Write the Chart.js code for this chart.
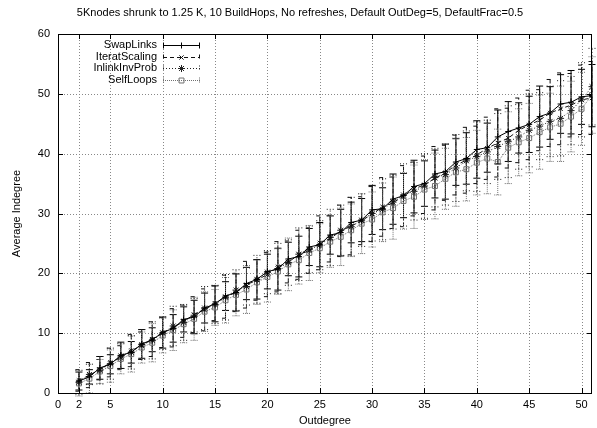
<!DOCTYPE html>
<html><head><meta charset="utf-8">
<script src="https://cdn.jsdelivr.net/npm/chart.js@4/dist/chart.umd.min.js"></script>
<style>html,body{margin:0;padding:0;background:#fff}#wrap{width:597px;height:428px}</style>
</head><body><div id="wrap"><canvas id="c" width="597" height="428"></canvas></div>
<script>
const titleText = "5Knodes shrunk to 1.25 K, 10 BuildHops, No refreshes, Default OutDeg=5, DefaultFrac=0.5";
const xTitle = "Outdegree";
const yTitle = "Average Indegree";
const xTicks = [0,2,5,10,15,20,25,30,35,40,45,50];
const yTicks = [0,10,20,30,40,50,60];
const outdeg = [2,3,4,5,6,7,8,9,10,11,12,13,14,15,16,17,18,19,20,21,22,23,24,25,26,27,28,29,30,31,32,33,34,35,36,37,38,39,40,41,42,43,44,45,46,47,48,49,50,51];
const swapLinks = [2.0,2.7,4.2,4.8,6.3,6.8,8.2,8.9,10.1,10.8,12.3,12.7,14.2,14.9,16.2,16.8,18.3,19.0,20.3,20.7,22.4,22.8,24.4,24.8,26.4,26.8,28.5,28.9,30.6,30.8,32.4,33.0,34.5,35.0,36.6,37.0,38.6,39.2,40.7,41.0,42.8,43.7,44.3,44.9,46.2,46.8,48.3,48.6,49.5,49.7];
const swapLinksErr = [1.5,1.2,1.9,1.6,2.2,1.8,2.4,2.0,2.6,2.3,2.1,2.8,2.5,3.0,2.4,3.1,2.7,3.3,2.9,3.5,2.8,3.4,3.1,3.7,3.2,3.9,3.4,3.6,4.1,3.5,4.2,3.7,4.4,3.8,4.0,4.6,3.9,4.3,4.8,4.1,4.5,5.0,4.2,4.7,5.1,4.4,4.9,5.3,4.6,5.2];
const iteratScaling = [2.1,3.0,3.9,5.1,5.9,7.1,7.9,9.0,10.1,10.9,12.0,13.1,13.9,15.0,16.1,16.8,18.1,18.9,19.8,21.1,21.9,23.1,23.8,25.1,25.8,27.1,27.9,28.8,29.9,31.1,31.8,32.9,34.1,34.8,35.9,36.8,38.1,38.9,39.8,40.9,41.8,42.6,43.9,44.8,45.6,46.8,47.5,48.1,49.0,49.3];
const iteratScalingErr = [1.8,2.1,1.7,2.4,2.0,2.7,2.3,2.9,2.5,3.2,2.7,3.0,3.5,2.9,3.6,3.2,3.9,3.4,3.7,4.2,3.5,4.1,3.8,4.5,3.9,4.3,4.8,4.0,4.6,4.9,4.3,5.1,4.5,4.8,5.3,4.6,5.0,5.5,4.8,5.2,5.7,5.0,5.4,5.8,5.1,5.6,6.0,5.3,5.8,6.1];
const inlinkInvProb = [1.8,3.1,3.8,4.9,6.2,6.8,8.1,8.8,10.0,11.2,11.8,13.0,14.2,14.8,16.0,17.2,17.8,19.0,20.2,20.8,21.8,23.2,24.0,24.7,26.0,27.2,27.8,28.9,30.0,30.7,31.9,33.1,33.7,34.6,36.0,36.5,37.6,38.8,39.5,40.3,41.2,42.0,42.8,43.9,44.6,45.4,45.9,47.2,49.0,51.2];
const inlinkInvProbErr = [2.0,1.7,2.3,2.6,2.1,2.8,2.5,3.1,2.7,3.3,3.0,2.8,3.6,3.2,3.8,3.4,3.1,4.0,3.6,4.2,3.8,4.4,3.9,4.1,4.7,4.2,4.9,4.4,4.6,5.1,4.5,5.2,4.8,5.4,4.9,5.1,5.6,5.0,5.8,5.3,5.5,6.0,5.4,6.1,5.6,5.9,6.3,5.7,6.2,6.4];
const selfLoops = [1.6,2.4,3.6,4.5,5.7,6.5,7.6,8.4,9.6,10.5,11.5,12.4,13.6,14.3,15.5,16.4,17.3,18.5,19.4,20.3,21.5,22.2,23.4,24.2,25.3,26.1,27.2,28.3,29.0,30.2,30.9,32.1,32.8,34.0,34.6,35.8,36.9,37.4,38.5,39.2,38.6,41.0,41.9,42.6,43.6,44.4,45.0,46.2,47.5,49.8];
const selfLoopsErr = [2.1,2.4,2.0,2.7,2.5,3.0,2.6,3.2,2.9,3.4,3.1,3.6,3.3,3.0,3.8,3.5,4.0,3.7,4.2,3.8,4.4,4.0,4.6,4.1,4.3,4.8,4.4,5.0,4.6,4.9,5.2,4.7,5.3,5.0,5.5,5.1,5.7,5.3,5.4,5.9,5.5,6.0,5.6,5.8,6.2,5.7,6.3,5.9,6.1,6.4];

const FONT = "'Liberation Sans', Arial, sans-serif";
function pts(ys){ return outdeg.map((x,i)=>({x:x,y:ys[i]})); }

const series = [
  {label:'SwapLinks', data:swapLinks, err:swapLinksErr, color:'#000000', dash:[], style:'cross', r:3, w:1},
  {label:'IteratScaling', data:iteratScaling, err:iteratScalingErr, color:'#111111', dash:[4,3], style:'crossRot', r:3, w:1},
  {label:'InlinkInvProb', data:inlinkInvProb, err:inlinkInvProbErr, color:'#222222', dash:[1,2], style:'star', r:3.5, w:1},
  {label:'SelfLoops', data:selfLoops, err:selfLoopsErr, color:'#707070', dash:[1,1], style:'rect', r:3.5, w:1}
];

const datasets = series.map(s=>({
  label:s.label, data:pts(s.data), errData:s.err,
  borderColor:s.color, backgroundColor:'rgba(0,0,0,0)', borderWidth:s.w, borderDash:s.dash,
  pointStyle:s.style, pointRadius:s.r, pointBorderColor:s.color, pointBackgroundColor:'rgba(0,0,0,0)',
  pointBorderWidth:1, tension:0, fill:false
}));

const framePlugin = {
  id:'frame',
  beforeDatasetsDraw(chart){
    const {ctx, chartArea:a, scales:{x,y}} = chart;
    ctx.save();
    ctx.lineWidth = 1;
    ctx.strokeStyle = '#888';
    ctx.setLineDash([1,2]);
    xTicks.forEach(v=>{ if(v<=0) return; const px=Math.round(x.getPixelForValue(v))+0.5;
      ctx.beginPath(); ctx.moveTo(px,a.top); ctx.lineTo(px,a.bottom); ctx.stroke(); });
    yTicks.forEach(v=>{ if(v<=0||v>=60) return; const py=Math.round(y.getPixelForValue(v))+0.5;
      ctx.beginPath(); ctx.moveTo(a.left,py); ctx.lineTo(a.right,py); ctx.stroke(); });
    ctx.setLineDash([]);
    chart.data.datasets.forEach((ds,di)=>{
      const s = series[di];
      ctx.strokeStyle = s.color; ctx.setLineDash(s.dash);
      ds.data.forEach((p,i)=>{
        const e = ds.errData[i];
        const px = x.getPixelForValue(p.x);
        const y1 = y.getPixelForValue(p.y - e), y2 = y.getPixelForValue(p.y + e);
        ctx.beginPath();
        ctx.moveTo(px,y1); ctx.lineTo(px,y2);
        ctx.moveTo(px-3.5,y1); ctx.lineTo(px+3.5,y1);
        ctx.moveTo(px-3.5,y2); ctx.lineTo(px+3.5,y2);
        ctx.stroke();
      });
    });
    ctx.setLineDash([]);
    ctx.restore();
  },
  afterDraw(chart){
    const {ctx, chartArea:a, scales:{x,y}} = chart;
    ctx.save();
    ctx.strokeStyle = '#000'; ctx.lineWidth = 1;
    ctx.strokeRect(Math.round(a.left)+0.5, Math.round(a.top)+0.5, Math.round(a.right-a.left)-1, Math.round(a.bottom-a.top));
    ctx.beginPath();
    xTicks.forEach(v=>{ const px=Math.round(x.getPixelForValue(v))+0.5;
      ctx.moveTo(px,a.bottom); ctx.lineTo(px,a.bottom-5);
      ctx.moveTo(px,a.top); ctx.lineTo(px,a.top+5); });
    yTicks.forEach(v=>{ const py=Math.round(y.getPixelForValue(v))+0.5;
      ctx.moveTo(a.left,py); ctx.lineTo(a.left+5,py);
      ctx.moveTo(a.right,py); ctx.lineTo(a.right-5,py); });
    ctx.stroke();
    ctx.fillStyle = '#000';
    ctx.font = '11px ' + FONT;
    ctx.textAlign = 'center'; ctx.textBaseline = 'middle';
    ctx.fillText(titleText, 300, 13);
    ctx.fillText(xTitle, (a.left+a.right)/2, 421);
    ctx.save();
    ctx.translate(17, (a.top+a.bottom)/2); ctx.rotate(-Math.PI/2);
    ctx.fillText(yTitle, 0, 0);
    ctx.restore();
    const rows = [45,56.5,68,79.5];
    series.forEach((s,i)=>{
      const ly = rows[i];
      ctx.fillStyle = '#000'; ctx.textAlign = 'right'; ctx.textBaseline = 'middle';
      ctx.font = '11px ' + FONT;
      ctx.fillText(s.label, 157, ly);
      ctx.strokeStyle = s.color; ctx.setLineDash(s.dash); ctx.lineWidth = 1;
      const x1=163, x2=200, py=Math.round(ly)+0.5;
      ctx.beginPath(); ctx.moveTo(x1,py); ctx.lineTo(x2,py);
      ctx.moveTo(x1+0.5,py-3); ctx.lineTo(x1+0.5,py+3);
      ctx.moveTo(x2-0.5,py-3); ctx.lineTo(x2-0.5,py+3);
      ctx.stroke(); ctx.setLineDash([]);
      ctx.fillStyle = 'rgba(0,0,0,0)';
      Chart.helpers.drawPoint(ctx, {pointStyle:s.style, radius:s.r, rotation:0, borderWidth:1}, (x1+x2)/2, py);
    });
    ctx.restore();
  }
};

new Chart(document.getElementById('c'), {
  type:'line',
  data:{datasets:datasets},
  plugins:[framePlugin],
  options:{
    responsive:false, animation:false, devicePixelRatio:1,
    layout:{padding:{top:34,right:1,left:0,bottom:0}},
    plugins:{legend:{display:false}, title:{display:false}, tooltip:{enabled:false}},
    scales:{
      x:{type:'linear', min:0, max:51,
        afterBuildTicks(sc){ sc.ticks = xTicks.map(v=>({value:v})); },
        afterFit(sc){ sc.height = 35; },
        grid:{display:false, drawTicks:false}, border:{display:false},
        ticks:{padding:5, color:'#000', font:{family:FONT, size:11}, maxRotation:0, autoSkip:false}
      },
      y:{type:'linear', min:0, max:60,
        afterBuildTicks(sc){ sc.ticks = yTicks.map(v=>({value:v})); },
        afterFit(sc){ sc.width = 58; },
        grid:{display:false, drawTicks:false}, border:{display:false},
        ticks:{padding:8, color:'#000', font:{family:FONT, size:11}}
      }
    }
  }
});
</script></body></html>
